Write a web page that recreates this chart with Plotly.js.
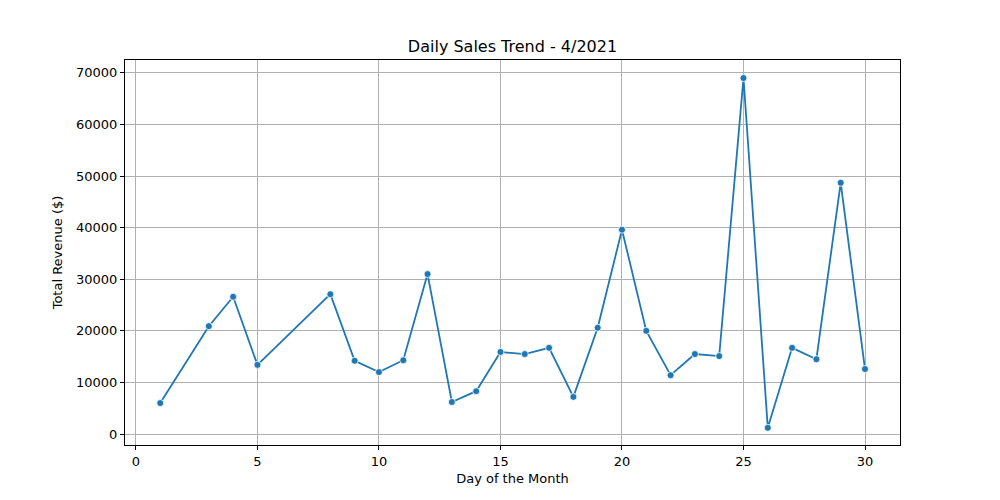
<!DOCTYPE html>
<html>
<head>
<script src="https://cdn.plot.ly/plotly-3.0.1.min.js"></script>
<style>body{margin:0}</style>
</head>
<body>
<div id="chart" style="width:1000px;height:500px"></div>
<script>
// daily revenue, April 2021
var days = [1, 3, 4, 5, 8, 9, 10, 11, 12, 13, 14, 15, 16, 17, 18, 19, 20, 21, 22, 23, 24, 25, 26, 27, 28, 29, 30];
var revenue = [6000, 20900, 26600, 13400, 27100, 14200, 12000, 14300, 31000, 6200, 8300, 15900, 15500, 16700, 7200, 20600, 39600, 20000, 11400, 15500, 15100, 69000, 1200, 16700, 14500, 48700, 12600];

var trace = {
    x: days,
    y: revenue,
    mode: "lines+markers",
    type: "scatter",
    line: {color: "#1f77b4", width: 1.8},
    marker: {color: "#1f77b4", size: 7, line: {color: "white", width: 0.8}}
};

var axisStyle = {
    showline: true,
    linecolor: "black",
    linewidth: 1,
    mirror: true,
    ticks: "outside",
    ticklen: 4,
    tickcolor: "black",
    showgrid: true,
    gridcolor: "#b0b0b0",
    gridwidth: 1,
    zeroline: false,
    tickfont: {size: 13, color: "black"}
};

var layout = {
    width: 1000,
    height: 500,
    margin: {l: 125, r: 100, t: 60, b: 55},
    showlegend: false,
    plot_bgcolor: "white",
    paper_bgcolor: "white",
    font: {family: "DejaVu Sans", color: "black"},
    title: {text: "Daily Sales Trend - 4/2021", font: {size: 16}, x: 0.5125, y: 0.908, yanchor: "middle"},
    xaxis: Object.assign({}, axisStyle, {
        range: [-0.45, 31.44],
        tickvals: [0, 5, 10, 15, 20, 25, 30],
        title: {text: "Day of the Month", font: {size: 13}, standoff: 6}
    }),
    yaxis: Object.assign({}, axisStyle, {
        range: [-2130, 72500],
        tickvals: [0, 10000, 20000, 30000, 40000, 50000, 60000, 70000],
        tickformat: "d",
        title: {text: "Total Revenue ($)", font: {size: 13}, standoff: 10}
    })
};

Plotly.newPlot("chart", [trace], layout, {displayModeBar: false});
</script>
</body>
</html>
